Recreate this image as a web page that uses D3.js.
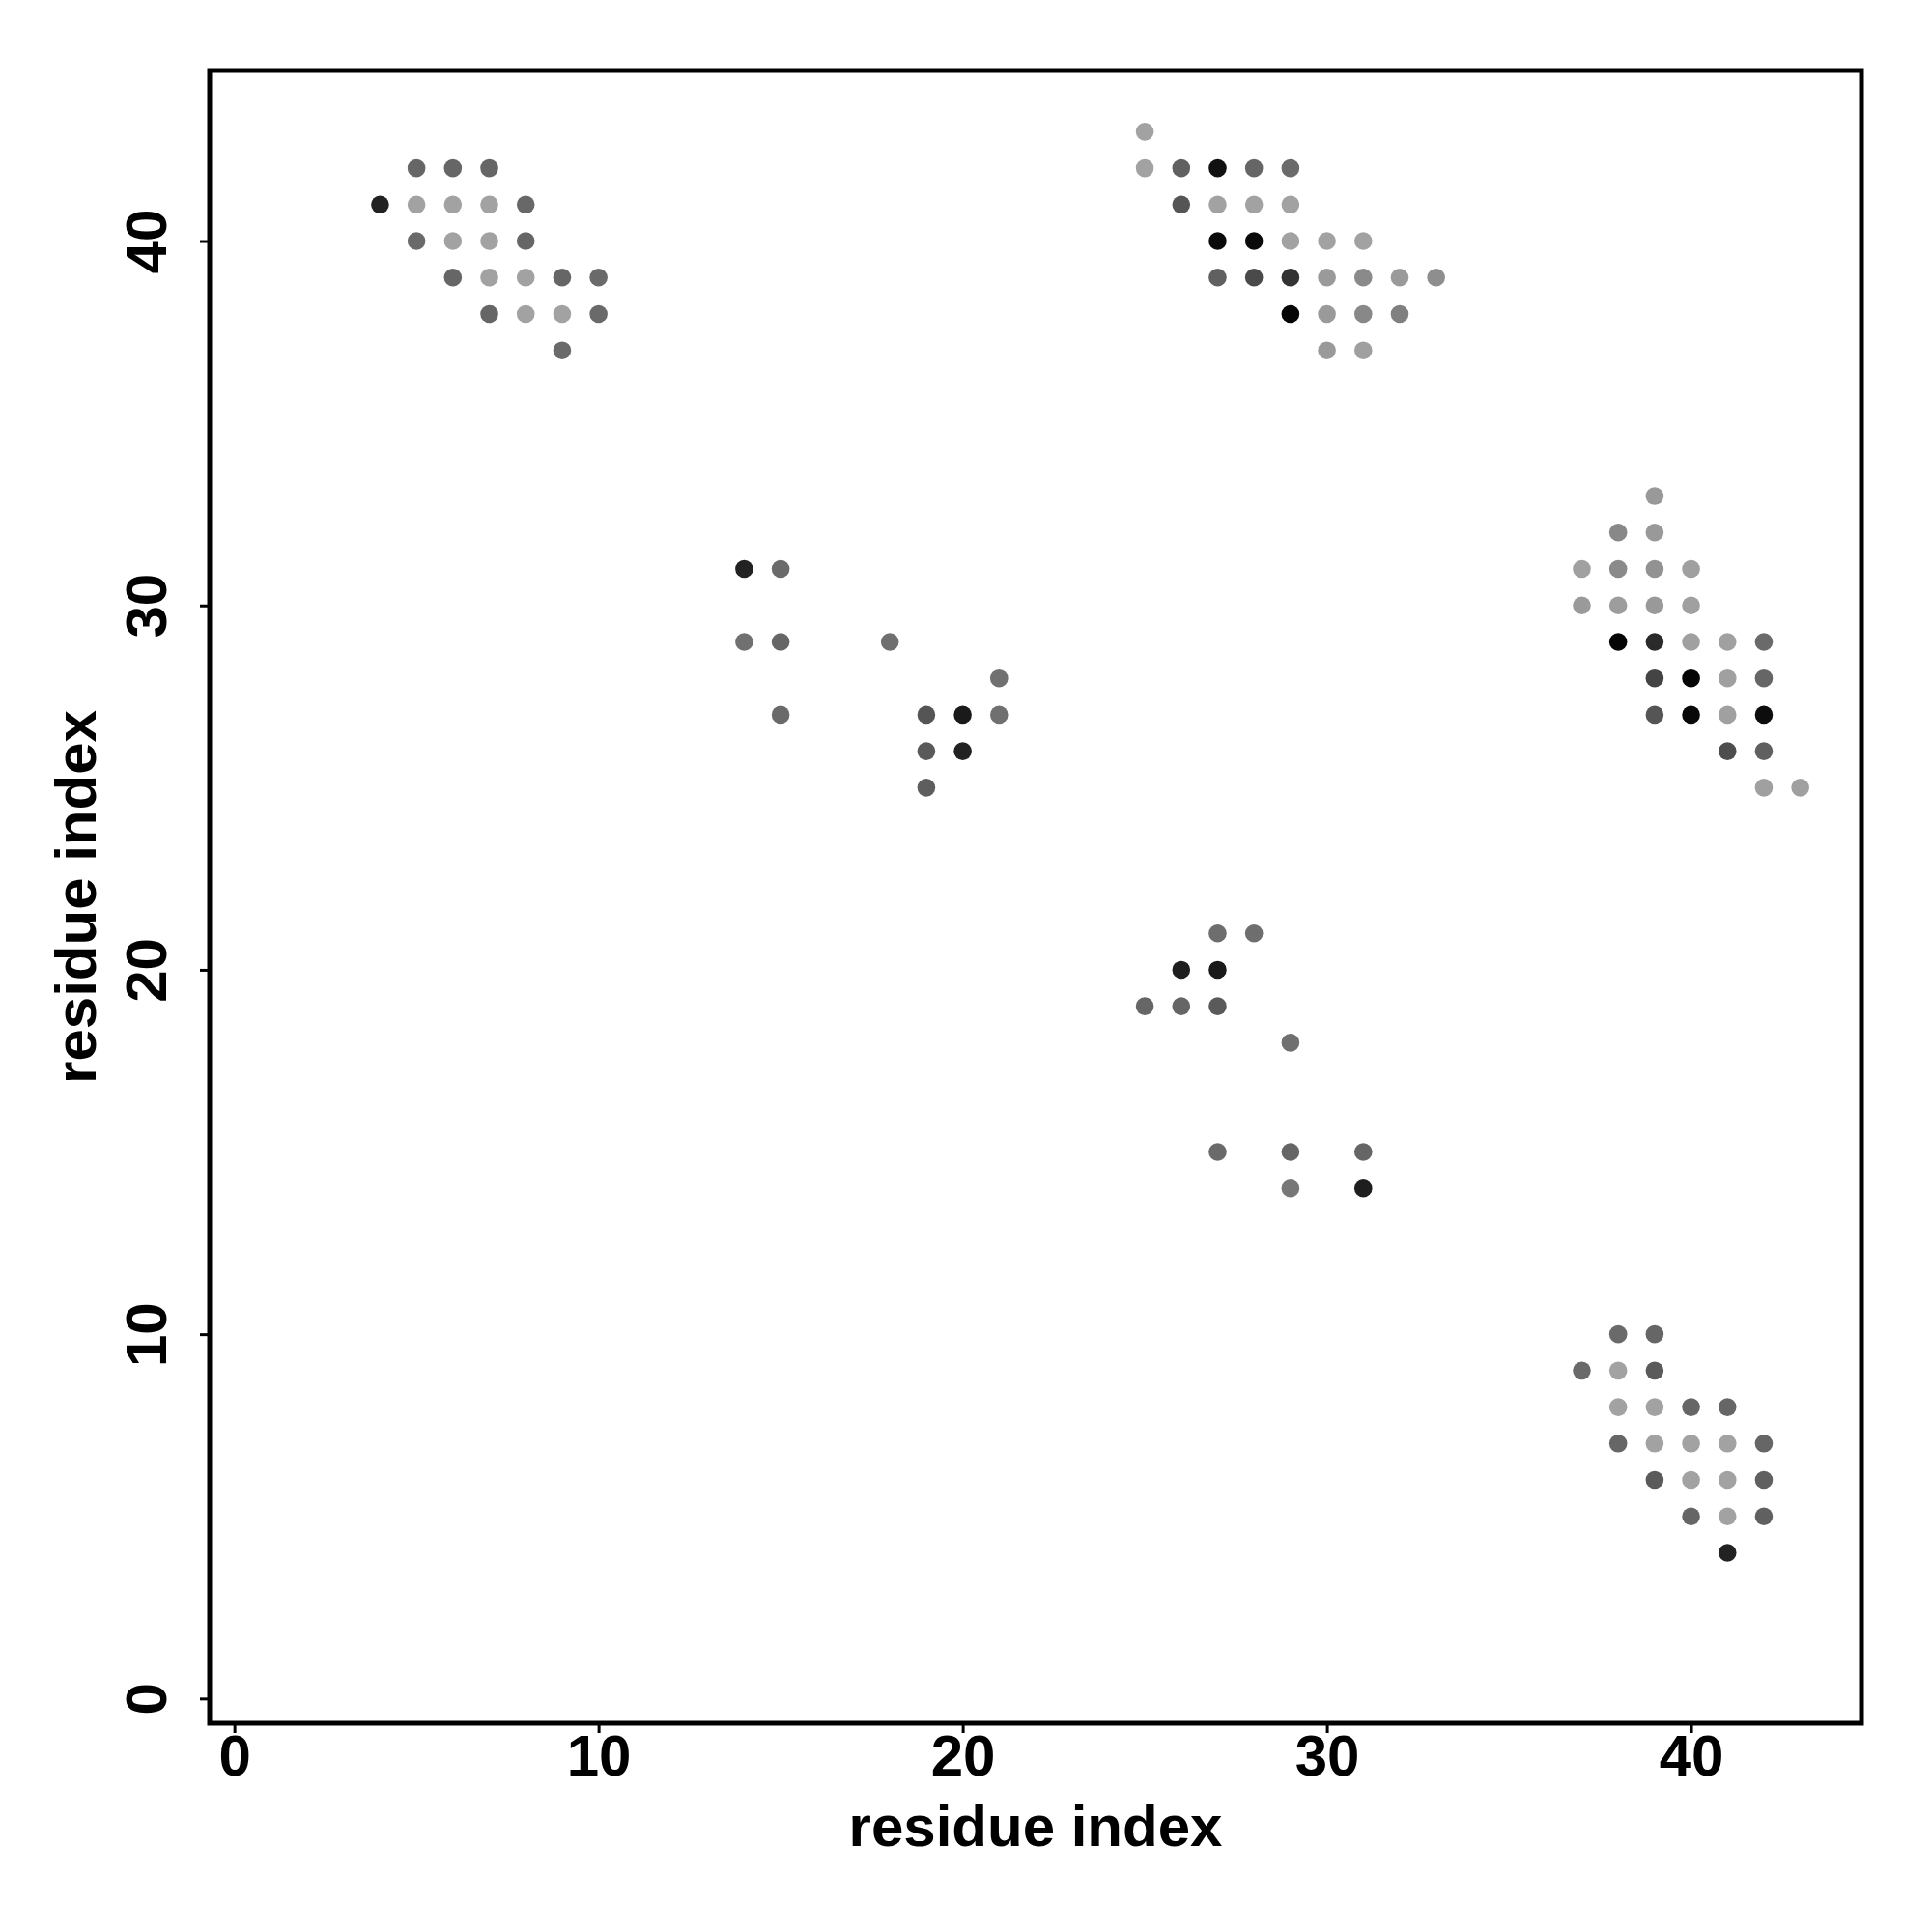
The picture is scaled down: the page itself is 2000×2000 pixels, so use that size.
<!DOCTYPE html>
<html>
<head>
<meta charset="utf-8">
<script src="https://cdn.jsdelivr.net/npm/d3@7"></script>
<style>
  html, body { margin: 0; padding: 0; background: #ffffff; }
  svg { display: block; }
</style>
</head>
<body>
<svg id="chart" width="2000" height="2000"></svg>
<script>
// ---- data: residue contact pairs (x residue, y residue) and grey level of each mark ----
const residueX = [
  5,6,7, 4,5,6,7,8, 5,6,7,8, 6,7,8,9,10, 7,8,9,10, 9,
  14,15, 14,15,18, 21, 15,19,20,21, 19,20, 19,
  25, 25,26,27,28,29, 26,27,28,29, 27,28,29,30,31, 27,28,29,30,31,32,33, 29,30,31,32, 30,31,
  27,28, 26,27, 25,26,27, 29, 27,29,31, 29,31,
  39, 38,39, 37,38,39,40, 37,38,39,40, 38,39,40,41,42, 39,40,41,42, 39,40,41,42, 41,42, 42,43,
  38,39, 37,38,39, 38,39,40,41, 38,39,40,41,42, 39,40,41,42, 40,41,42, 41
];
const residueY = [
  42,42,42, 41,41,41,41,41, 40,40,40,40, 39,39,39,39,39, 38,38,38,38, 37,
  31,31, 29,29,29, 28, 27,27,27,27, 26,26, 25,
  43, 42,42,42,42,42, 41,41,41,41, 40,40,40,40,40, 39,39,39,39,39,39,39, 38,38,38,38, 37,37,
  21,21, 20,20, 19,19,19, 18, 15,15,15, 14,14,
  33, 32,32, 31,31,31,31, 30,30,30,30, 29,29,29,29,29, 28,28,28,28, 27,27,27,27, 26,26, 25,25,
  10,10, 9,9,9, 8,8,8,8, 7,7,7,7,7, 6,6,6,6, 5,5,5, 4
];
// grey level (0 = black, 255 = white)
const greyLevel = [
  102,102,102, 34,162,162,162,104, 106,162,162,102, 102,162,162,102,106, 102,162,162,106, 106,
  34,106, 112,102,112, 112, 106,85,26,112, 90,34, 94,
  162, 162,96,17,102,106, 85,162,162,162, 10,10,162,162,162, 96,74,51,154,138,154,142, 5,154,136,128, 154,160,
  110,110, 30,26, 102,102,90, 112, 106,102,102, 119,30,
  153, 136,153, 160,138,146,160, 154,157,153,160, 5,42,160,160,106, 68,5,160,102, 85,8,160,13, 78,96, 160,160,
  106,102, 106,162,90, 162,162,102,102, 102,162,162,162,102, 90,162,162,96, 102,162,96, 34
];
const xTicks = [0, 10, 20, 30, 40];
const yTicks = [0, 10, 20, 30, 40];
const xTitle = "residue index";
const yTitle = "residue index";

// ---- layout ----
const plot = { left: 217, right: 1927, top: 73, bottom: 1784 };
const font = "'Liberation Sans', Arial, Helvetica, sans-serif";

const svg = d3.select("#chart");
const x = d3.scaleLinear().domain([-0.68, 44.68]).range([plot.left, plot.right]);
const y = d3.scaleLinear().domain([-0.68, 44.68]).range([plot.bottom, plot.top]);
const grey = d3.scaleLinear().domain([0, 255]).range(["#000000", "#ffffff"]);

svg.append("rect").attr("width", 2000).attr("height", 2000).attr("fill", "#ffffff");

const points = residueX.map((d, i) => ({ x: d, y: residueY[i], g: greyLevel[i] }));

svg.append("g")
  .selectAll("circle")
  .data(points)
  .join("circle")
  .attr("cx", d => x(d.x))
  .attr("cy", d => y(d.y))
  .attr("r", 9.3)
  .attr("fill", d => grey(d.g));

// x axis
const gx = svg.append("g")
  .attr("transform", `translate(0,${plot.bottom})`)
  .call(d3.axisBottom(x).tickValues(xTicks).tickSize(10).tickFormat(d3.format("d")));
gx.select(".domain").remove();
gx.selectAll(".tick line").attr("stroke", "#000").attr("stroke-width", 3);
gx.selectAll(".tick text")
  .attr("y", 54).attr("dy", 0)
  .attr("fill", "#000")
  .style("font-family", font).style("font-size", "60px").style("font-weight", "bold");

// y axis
const gy = svg.append("g")
  .attr("transform", `translate(${plot.left},0)`)
  .call(d3.axisLeft(y).tickValues(yTicks).tickSize(10).tickFormat(d3.format("d")));
gy.select(".domain").remove();
gy.selectAll(".tick line").attr("stroke", "#000").attr("stroke-width", 3);
gy.selectAll(".tick text")
  .attr("transform", "rotate(-90)")
  .attr("x", 0).attr("y", -45).attr("dy", 0)
  .attr("text-anchor", "middle")
  .attr("fill", "#000")
  .style("font-family", font).style("font-size", "60px").style("font-weight", "bold");

// box
svg.append("rect")
  .attr("x", plot.left).attr("y", plot.top)
  .attr("width", plot.right - plot.left).attr("height", plot.bottom - plot.top)
  .attr("fill", "none").attr("stroke", "#000").attr("stroke-width", 5);

// titles
svg.append("text")
  .attr("x", (plot.left + plot.right) / 2).attr("y", 1911)
  .attr("text-anchor", "middle")
  .style("font-family", font).style("font-size", "60px").style("font-weight", "bold")
  .text(xTitle);

svg.append("text")
  .attr("transform", `translate(99,${(plot.top + plot.bottom) / 2}) rotate(-90)`)
  .attr("text-anchor", "middle")
  .style("font-family", font).style("font-size", "60px").style("font-weight", "bold")
  .text(yTitle);
</script>
</body>
</html>
